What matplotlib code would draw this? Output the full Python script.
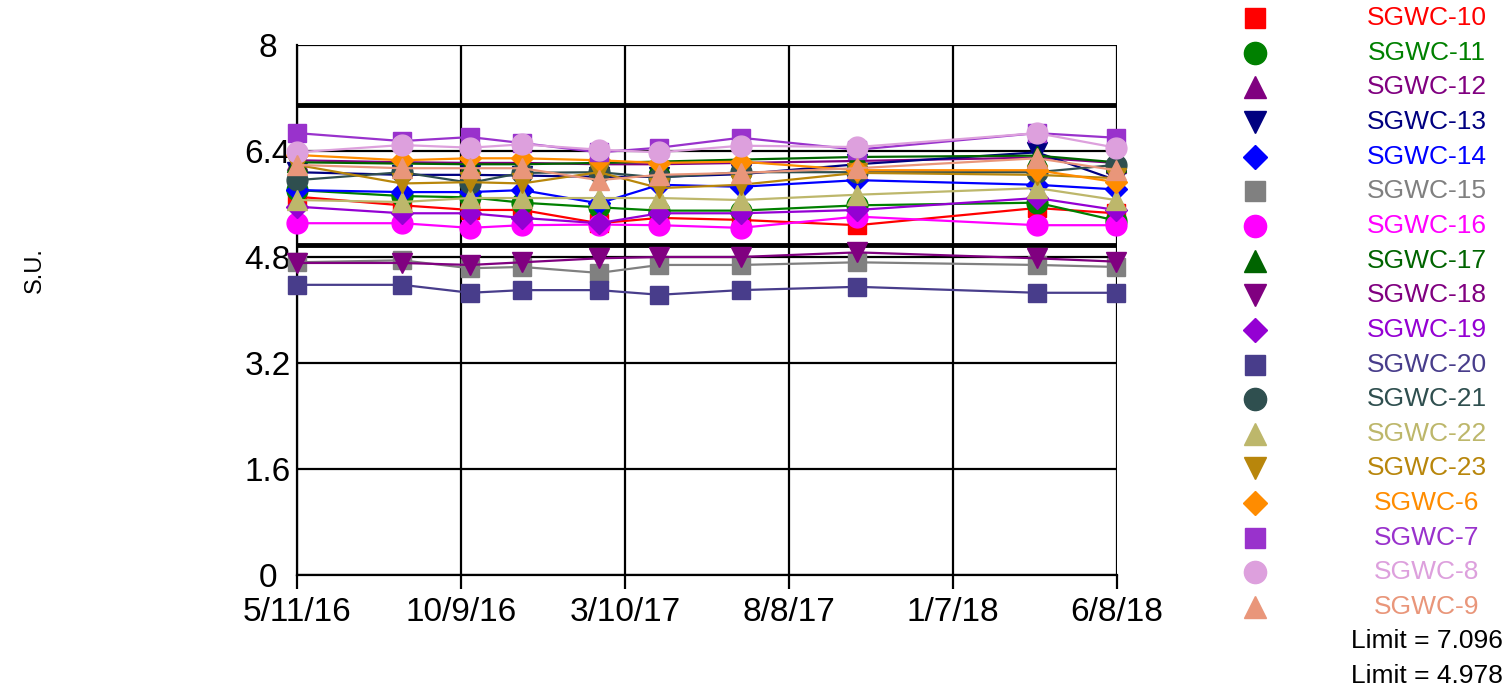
import matplotlib
matplotlib.use("Agg")
import matplotlib.pyplot as plt
import matplotlib.dates as mdates
import numpy as np
import pandas as pd

plt.rcParams['font.family'] = ['Liberation Sans', 'DejaVu Sans']

# sampling dates
dates = pd.to_datetime(['2016-05-11', '2016-08-16', '2016-10-18', '2016-12-05',
                        '2017-02-14', '2017-04-11', '2017-06-25', '2017-10-11',
                        '2018-03-26', '2018-06-07'])

wells = ['SGWC-10', 'SGWC-11', 'SGWC-12', 'SGWC-13', 'SGWC-14', 'SGWC-15',
         'SGWC-16', 'SGWC-17', 'SGWC-18', 'SGWC-19', 'SGWC-20', 'SGWC-21',
         'SGWC-22', 'SGWC-23', 'SGWC-6', 'SGWC-7', 'SGWC-8', 'SGWC-9']

sgwc10 = [5.71, 5.58, 5.51, 5.51, 5.31, 5.39, 5.36, 5.28, 5.54, 5.46]
sgwc11 = [5.81, 5.72, 5.70, 5.62, 5.55, 5.50, 5.50, 5.58, 5.62, 5.35]
sgwc12 = [6.26, 6.23, 6.22, 6.22, 6.20, 6.20, 6.22, 6.25, 6.30, 6.22]
sgwc13 = [6.08, 6.04, 6.04, 6.03, 6.01, 6.01, 6.05, 6.20, 6.38, 5.96]
sgwc14 = [5.81, 5.78, 5.78, 5.81, 5.61, 5.89, 5.86, 5.96, 5.89, 5.82]
sgwc15 = [4.72, 4.75, 4.63, 4.65, 4.56, 4.68, 4.68, 4.72, 4.68, 4.65]
sgwc16 = [5.31, 5.31, 5.24, 5.28, 5.29, 5.28, 5.24, 5.41, 5.28, 5.28]
sgwc17 = [6.23, 6.21, 6.20, 6.20, 6.22, 6.24, 6.27, 6.31, 6.33, 6.23]
sgwc18 = [4.71, 4.71, 4.68, 4.72, 4.78, 4.80, 4.80, 4.87, 4.78, 4.73]
sgwc19 = [5.56, 5.46, 5.46, 5.39, 5.31, 5.46, 5.46, 5.51, 5.69, 5.51]
sgwc20 = [4.38, 4.38, 4.26, 4.30, 4.30, 4.23, 4.30, 4.35, 4.26, 4.26]
sgwc21 = [5.96, 6.08, 5.92, 6.07, 6.08, 6.00, 6.08, 6.08, 6.08, 6.19]
sgwc22 = [5.66, 5.63, 5.69, 5.69, 5.69, 5.69, 5.66, 5.74, 5.84, 5.66]
sgwc23 = [6.19, 5.91, 5.93, 5.91, 6.08, 5.84, 5.89, 6.07, 6.04, 5.99]
sgwc6 = [6.34, 6.26, 6.29, 6.29, 6.26, 6.22, 6.24, 6.11, 6.11, 5.93]
sgwc7 = [6.67, 6.55, 6.61, 6.52, 6.38, 6.45, 6.60, 6.42, 6.67, 6.60]
sgwc8 = [6.38, 6.49, 6.45, 6.50, 6.42, 6.38, 6.48, 6.46, 6.67, 6.45]
sgwc9 = [6.19, 6.14, 6.14, 6.14, 5.96, 6.04, 6.07, 6.14, 6.29, 6.11]

values = [sgwc10, sgwc11, sgwc12, sgwc13, sgwc14, sgwc15, sgwc16, sgwc17, sgwc18,
          sgwc19, sgwc20, sgwc21, sgwc22, sgwc23, sgwc6, sgwc7, sgwc8, sgwc9]

colors = ['#FF0000', '#008000', '#800080', '#000080', '#0000FF', '#808080',
          '#FF00FF', '#006400', '#800080', '#9400D3', '#483D8B', '#2F4F4F',
          '#BDB76B', '#B8860B', '#FF8C00', '#9932CC', '#DDA0DD', '#E9967A']
markers = ['s', 'o', '^', 'v', 'D', 's', 'o', '^', 'v', 'D', 's', 'o',
           '^', 'v', 'D', 's', 'o', '^']

limits = [7.096, 4.978]

yticks = [0, 1.6, 3.2, 4.8, 6.4, 8]
xtick_labels = ['5/11/16', '10/9/16', '3/10/17', '8/8/17', '1/7/18', '6/8/18']

fig = plt.figure(figsize=(15.10, 6.89), dpi=100)
ax = fig.add_axes([297/1510, 1 - 575/689, 820/1510, 530/689])

msize = {'s': 13, 'o': 15, '^': 15, 'v': 15, 'D': 11}
for v, c, m in zip(values, colors, markers):
    ax.plot(dates, v, color=c, lw=1.6, marker=m, ms=msize[m], mec=c, mfc=c,
            zorder=3, clip_on=False)

for lim in limits:
    ax.axhline(lim, color='black', lw=3.5, zorder=2)

x0 = mdates.date2num(pd.Timestamp('2016-05-11'))
x1 = mdates.date2num(pd.Timestamp('2018-06-08'))
ax.set_xlim(x0, x1)
ax.set_xticks(np.linspace(x0, x1, 6))
ax.set_xticklabels(xtick_labels, fontsize=24)
ax.set_ylim(0, 8)
ax.set_yticks(yticks)
ax.set_yticklabels(['0', '1.6', '3.2', '4.8', '6.4', '8'], fontsize=24, ha='center')
ax.grid(True, color='black', lw=1.6, zorder=1)
ax.tick_params(axis='x', length=10, width=1.6, pad=6)
ax.tick_params(axis='y', length=0, pad=21)
for s in ['top', 'right']:
    ax.spines[s].set_visible(False)
ax.spines['left'].set_linewidth(1.6)
ax.spines['bottom'].set_linewidth(1.6)
fig.text(35/1510, 1 - 270/689, 'S.U.', rotation=90, fontsize=17, ha='center', va='center')

# legend drawn on an overlay in pixel coordinates
lax = fig.add_axes([0, 0, 1, 1])
lax.set_xlim(0, 1510)
lax.set_ylim(689, 0)
lax.axis('off')
row_y = 18 + 34.65 * np.arange(len(wells))
for name, c, m, y in zip(wells, colors, markers, row_y):
    lax.plot([1255], [y], marker=m, ms=msize[m] + 1, color=c, mec=c, ls='none')
    lax.text(1427, y, name, color=c, fontsize=19, ha='center', va='center')
for lim, y in zip(limits, [641, 676]):
    lax.text(1427, y, 'Limit = %.3f' % lim, color='black', fontsize=19, ha='center', va='center')

fig.savefig('out.png', dpi=100)
